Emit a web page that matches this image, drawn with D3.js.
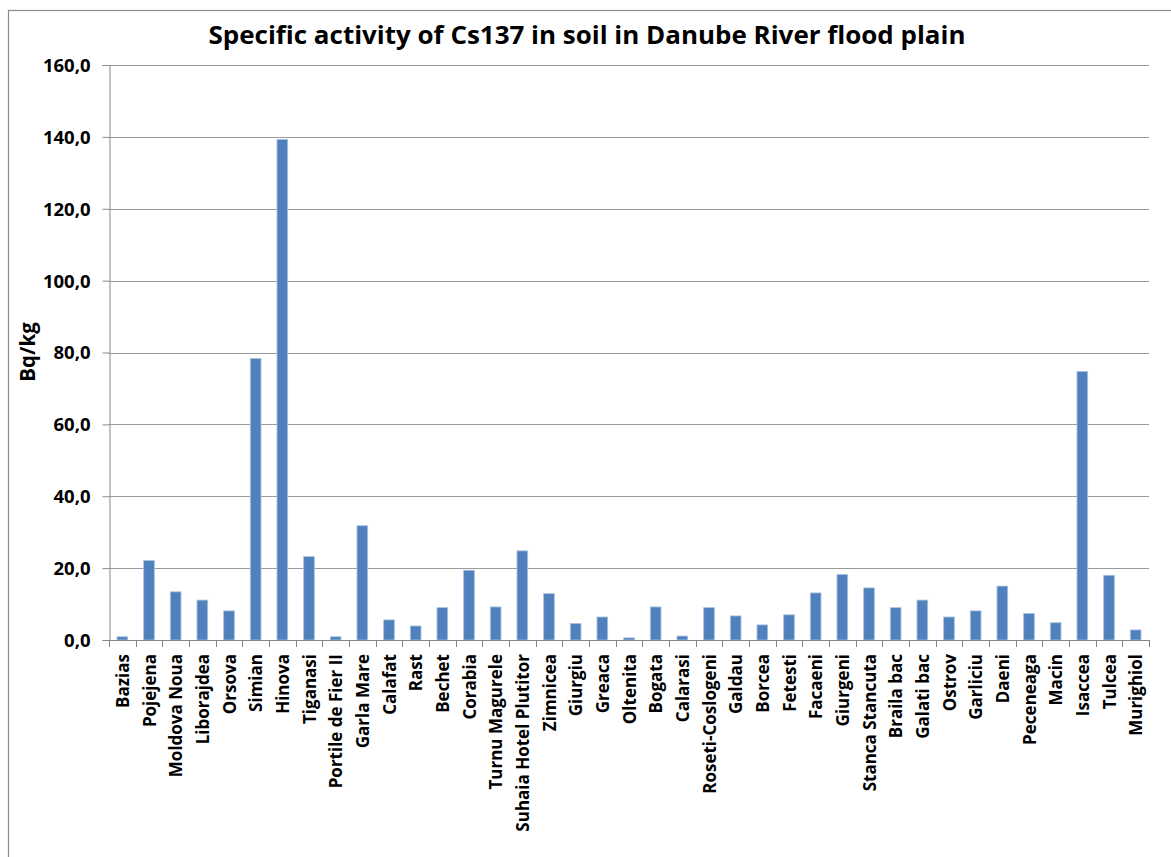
<!DOCTYPE html>
<html>
<head>
<meta charset="utf-8">
<script src="https://cdn.jsdelivr.net/npm/d3@7/dist/d3.min.js"></script>
<style>
  html, body { margin: 0; padding: 0; background: #fff; }
  svg { display: block; }
  text { font-family: "Open Sans", Lato, "DejaVu Sans", sans-serif; font-weight: bold; fill: #000; }
</style>
</head>
<body>
<svg id="chart" width="1171" height="857"></svg>
<script>
// Sampling sites along the Danube, upstream to downstream
const sites = [
  "Bazias", "Pojejena", "Moldova Noua", "Liborajdea", "Orsova", "Simian", "Hinova",
  "Tiganasi", "Portile de Fier II", "Garla Mare", "Calafat", "Rast", "Bechet", "Corabia",
  "Turnu Magurele", "Suhaia Hotel Plutitor", "Zimnicea", "Giurgiu", "Greaca", "Oltenita",
  "Bogata", "Calarasi", "Roseti-Coslogeni", "Galdau", "Borcea", "Fetesti", "Facaeni",
  "Giurgeni", "Stanca Stancuta", "Braila bac", "Galati bac", "Ostrov", "Garliciu", "Daeni",
  "Peceneaga", "Macin", "Isaccea", "Tulcea", "Murighiol"
];

// Cs137 specific activity, Bq/kg
const activity = [
  0.9, 22.1, 13.4, 11.1, 8.1, 78.3, 139.3,
  23.2, 0.9, 31.8, 5.6, 3.9, 9.0, 19.4,
  9.2, 24.8, 12.9, 4.6, 6.4, 0.6,
  9.2, 1.1, 9.0, 6.7, 4.2, 7.0, 13.1,
  18.2, 14.5, 9.0, 11.1, 6.4, 8.1, 15.0,
  7.4, 4.8, 74.7, 18.0, 2.8
];

const yTicks = [0, 20, 40, 60, 80, 100, 120, 140, 160];
const titleText = "Specific activity of Cs137 in soil in Danube River flood plain";
const yLabel = "Bq/kg";

const svg = d3.select("#chart");
const plot = { left: 109, right: 1149, top: 65, bottom: 640 };
const axisColor = "#888888";
const barColor = "#4F81BD";

// outer chart frame
svg.append("rect")
  .attr("x", 8.5).attr("y", 10.5)
  .attr("width", 1180).attr("height", 880)
  .attr("fill", "none").attr("stroke", "#8c8c8c").attr("stroke-width", 1.2);

const x = d3.scaleBand().domain(sites).range([plot.left, plot.right]).padding(0);
const y = d3.scaleLinear().domain([0, 160]).range([plot.bottom, plot.top]);

// horizontal gridlines
svg.append("g")
  .selectAll("line")
  .data(yTicks.filter(t => t > 0))
  .join("line")
  .attr("x1", plot.left).attr("x2", plot.right)
  .attr("y1", d => Math.round(y(d)) + 0.5).attr("y2", d => Math.round(y(d)) + 0.5)
  .attr("stroke", "#9a9a9a").attr("stroke-width", 1);

// bars
const barFrac = 0.4;
svg.append("g")
  .selectAll("rect")
  .data(sites.map((s, i) => ({ site: s, v: activity[i] })))
  .join("rect")
  .attr("x", d => x(d.site) + x.bandwidth() * (1 - barFrac) / 2)
  .attr("y", d => y(d.v))
  .attr("width", x.bandwidth() * barFrac)
  .attr("height", d => y(0) - y(d.v))
  .attr("fill", barColor)
  .attr("stroke", "#a9c1e0").attr("stroke-width", 0.8);

// y axis
const yAxis = d3.axisLeft(y).tickValues(yTicks).tickSize(7).tickPadding(12)
  .tickFormat(d => d3.format(".1f")(d).replace(".", ","));
const gy = svg.append("g").attr("transform", `translate(${plot.left + 0.5},0)`).call(yAxis);
gy.select(".domain").attr("stroke", axisColor);
gy.selectAll(".tick line").attr("stroke", axisColor);
gy.selectAll(".tick text").style("font-size", "18.5px").attr("dy", "0.35em");

// x axis with tick marks on category boundaries
svg.append("line")
  .attr("x1", plot.left).attr("x2", plot.right)
  .attr("y1", plot.bottom + 0.5).attr("y2", plot.bottom + 0.5)
  .attr("stroke", axisColor);
const boundaries = sites.map(s => x(s)).concat([plot.right]);
svg.append("g")
  .selectAll("line")
  .data(boundaries)
  .join("line")
  .attr("x1", d => Math.round(d) + 0.5).attr("x2", d => Math.round(d) + 0.5)
  .attr("y1", plot.bottom).attr("y2", plot.bottom + 7)
  .attr("stroke", axisColor);

// rotated category labels
svg.append("g")
  .selectAll("text")
  .data(sites)
  .join("text")
  .attr("transform", d => `translate(${x(d) + x.bandwidth() / 2 + 6.5},${plot.bottom + 14}) rotate(-90)`)
  .attr("text-anchor", "end")
  .style("font-size", "17px")
  .text(d => d);

// y axis title
svg.append("text")
  .attr("transform", `translate(35,352) rotate(-90)`)
  .attr("text-anchor", "middle")
  .style("font-size", "20.5px")
  .text(yLabel);

// chart title
svg.append("text")
  .attr("x", 587).attr("y", 44)
  .attr("text-anchor", "middle")
  .style("font-size", "25px")
  .attr("textLength", 757).attr("lengthAdjust", "spacingAndGlyphs")
  .text(titleText);
</script>
</body>
</html>
